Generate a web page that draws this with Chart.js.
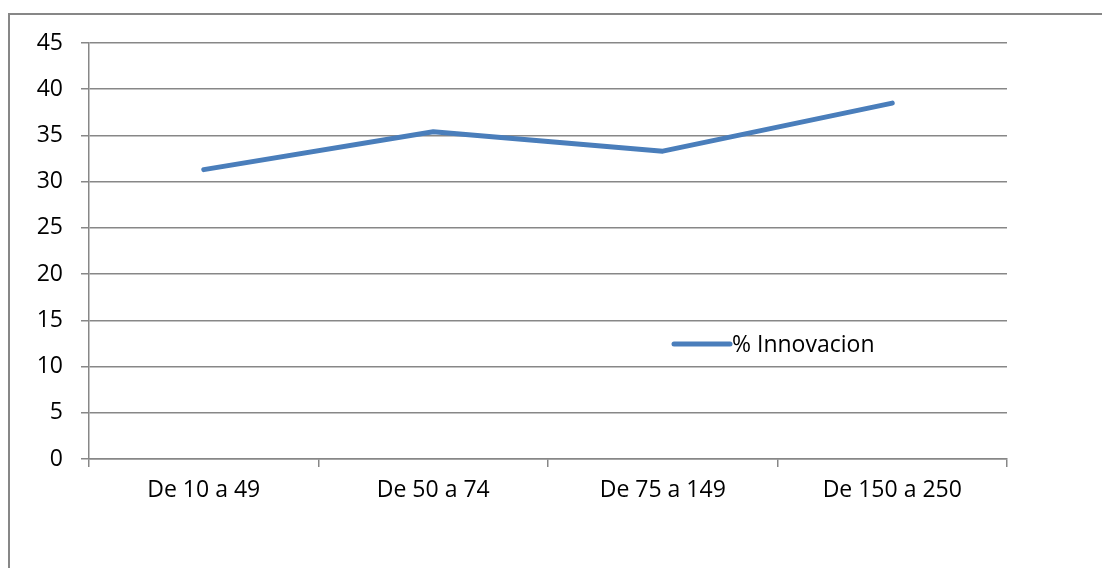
<!DOCTYPE html>
<html>
<head>
<meta charset="utf-8">
<script src="https://cdn.jsdelivr.net/npm/chart.js@4.4.0/dist/chart.umd.min.js"></script>
<style>
    html, body { margin: 0; padding: 0; background: #fff; overflow: hidden; }
    #marco {
        position: absolute; left: 8px; top: 13px;
        width: 1100px; height: 600px;
        border: 2px solid #878787; box-sizing: border-box;
    }
    #wrap { position: absolute; left: 0; top: 0; width: 1102px; height: 568px; }
</style>
</head>
<body>
<div id="marco"></div>
<div id="wrap"><canvas id="chartInnovacion"></canvas></div>
<script>
// Tramos de tamaño de empresa y porcentaje de innovación
const categorias = ['De 10 a 49', 'De 50 a 74', 'De 75 a 149', 'De 150 a 250'];
const innovacion = [31.3, 35.4, 33.3, 38.5];
const serieNombre = '% Innovacion';
const ejeY = { min: 0, max: 45, paso: 5 };

const GRIS = '#878787';
const AZUL = '#4a7ebb';
const FUENTE = { family: '"Open Sans", "Liberation Sans", sans-serif', size: 23 };

// Leyenda dibujada dentro del área del gráfico
const leyendaInterna = {
    id: 'leyendaInterna',
    afterDatasetsDraw(chart) {
        const { ctx, chartArea } = chart;
        const x = chartArea.left + 585;
        const y = chartArea.top + 301;
        ctx.save();
        ctx.strokeStyle = AZUL;
        ctx.lineWidth = 5;
        ctx.lineCap = 'round';
        ctx.beginPath();
        ctx.moveTo(x, y);
        ctx.lineTo(x + 56, y);
        ctx.stroke();
        ctx.fillStyle = '#000';
        ctx.font = `${FUENTE.size}px ${FUENTE.family}`;
        ctx.textBaseline = 'middle';
        ctx.fillText(chart.data.datasets[0].label, x + 58, y + 1);
        ctx.restore();
    }
};

const ctx = document.getElementById('chartInnovacion').getContext('2d');
new Chart(ctx, {
    type: 'line',
    data: {
        labels: categorias,
        datasets: [{
            label: serieNombre,
            data: innovacion,
            borderColor: AZUL,
            borderWidth: 5,
            borderCapStyle: 'round',
            borderJoinStyle: 'round',
            pointRadius: 0,
            pointHoverRadius: 0,
            tension: 0,
            fill: false
        }]
    },
    options: {
        responsive: true,
        maintainAspectRatio: false,
        animation: false,
        layout: { padding: { top: 43, right: 95, left: 0, bottom: 49 } },
        plugins: {
            legend: { display: false },
            tooltip: { enabled: false }
        },
        scales: {
            x: {
                offset: true,
                grid: {
                    offset: true,
                    drawOnChartArea: false,
                    drawTicks: true,
                    tickLength: 8,
                    tickColor: GRIS,
                    lineWidth: 1.5
                },
                border: { display: true, color: GRIS, width: 1.5 },
                ticks: { color: '#000', font: FUENTE, padding: 10, maxRotation: 0 },
                afterFit(scale) { scale.height = 60; }
            },
            y: {
                min: ejeY.min,
                max: ejeY.max,
                grid: {
                    color: GRIS,
                    lineWidth: 1.5,
                    drawTicks: true,
                    tickLength: 8,
                    tickColor: GRIS
                },
                border: { display: true, color: GRIS, width: 1.5 },
                ticks: { stepSize: ejeY.paso, color: '#000', font: FUENTE, padding: 18 },
                afterFit(scale) { scale.width = 89; }
            }
        }
    },
    plugins: [leyendaInterna]
});
</script>
</body>
</html>
